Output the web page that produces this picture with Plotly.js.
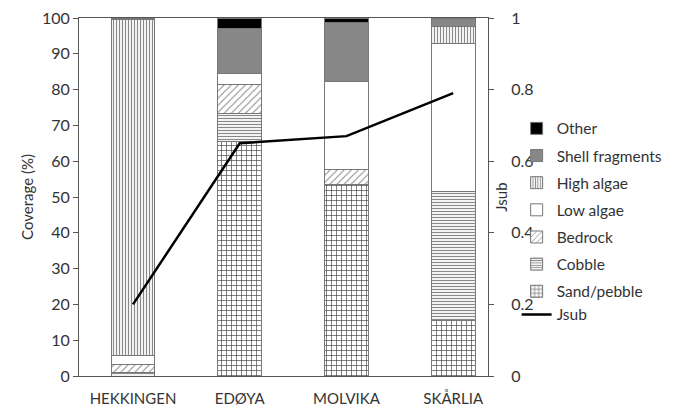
<!DOCTYPE html>
<html>
<head>
<meta charset="utf-8">
<script src="https://cdn.plot.ly/plotly-3.0.1.min.js"></script>
<style>html,body{margin:0;padding:0;background:#fff;}#chart{width:680px;height:408px;}</style>
</head>
<body>
<div id="chart"></div>
<script>
const categories = ["HEKKINGEN", "EDØYA", "MOLVIKA", "SKÅRLIA"];
const sandPebble = [0, 65.4, 53.4, 15.5];
const cobble = [1, 8, 0, 36];
const bedrock = [2.2, 7.9, 4.4, 0];
const lowAlgae = [2.5, 3.3, 24.5, 41.4];
const highAlgae = [93.8, 0, 0, 4.7];
const shellFragments = [0, 12.6, 16.5, 2.4];
const other = [0.5, 2.8, 1.2, 0];
const jsub = [0.2, 0.65, 0.67, 0.79];

const FONT = "Lato, 'Open Sans', sans-serif";
const TXT = "#333";
const outline = {color: "#777", width: 1};

function barTrace(name, vals, rank, color, pattern) {
  const m = {color: color, line: outline};
  if (pattern) m.pattern = pattern;
  return {
    type: "bar", name: name, x: categories, y: vals, width: 0.41,
    marker: m, legendrank: rank, legendgroup: "g" + rank, hoverinfo: "skip"
  };
}

const traces = [
  barTrace("Sand/pebble", sandPebble, 7, "#fff", {shape: "+", fgcolor: "#444", bgcolor: "#fff", size: 5, solidity: 0.25}),
  barTrace("Cobble", cobble, 6, "#fff", {shape: "-", fgcolor: "#888", bgcolor: "#fff", size: 3, solidity: 0.4}),
  barTrace("Bedrock", bedrock, 5, "#fff", {shape: "/", fgcolor: "#888", bgcolor: "#fff", size: 5, solidity: 0.2}),
  barTrace("Low algae", lowAlgae, 4, "#fff", null),
  barTrace("High algae", highAlgae, 3, "#fff", {shape: "|", fgcolor: "#888", bgcolor: "#fff", size: 3, solidity: 0.4}),
  barTrace("Shell fragments", shellFragments, 2, "#878787", null),
  barTrace("Other", other, 1, "#000", null),
  {
    type: "scatter", mode: "lines", name: "Jsub", x: categories, y: jsub,
    yaxis: "y2", line: {color: "#000", width: 2.5}, legendrank: 8, legendgroup: "g7"
  }
];

const layout = {
  width: 680, height: 408,
  margin: {l: 79, r: 187, t: 18, b: 32},
  paper_bgcolor: "#fff", plot_bgcolor: "#fff",
  font: {family: FONT, size: 15, color: TXT},
  barmode: "stack",
  bargap: 0,
  showlegend: true,
  legend: {
    x: 1.07, xanchor: "left", y: 0.738, yanchor: "top",
    traceorder: "grouped", tracegroupgap: 4, itemwidth: 30,
    font: {family: FONT, size: 15.5, color: TXT}, bgcolor: "rgba(0,0,0,0)"
  },
  xaxis: {
    type: "category", range: [-0.506, 3.326],
    showline: true, linecolor: "#555", linewidth: 1, mirror: true,
    ticks: "", showgrid: false, zeroline: false, ticklabelstandoff: 9,
    tickfont: {family: FONT, size: 15, color: TXT}
  },
  yaxis: {
    range: [0, 100], dtick: 10, tick0: 0,
    showline: true, linecolor: "#555", linewidth: 1, mirror: true,
    ticks: "outside", ticklen: 5, tickcolor: "#555",
    showgrid: false, zeroline: false,
    tickfont: {family: FONT, size: 16, color: TXT},
    title: {text: "Coverage (%)", font: {family: FONT, size: 15, color: TXT}, standoff: 4}
  },
  yaxis2: {
    overlaying: "y", side: "right", range: [0, 1], dtick: 0.2, tick0: 0,
    showline: true, linecolor: "#555", linewidth: 1,
    ticks: "outside", ticklen: 5, tickcolor: "#555", ticklabelstandoff: 14,
    showgrid: false, zeroline: false,
    tickfont: {family: FONT, size: 16, color: TXT}
  },
  annotations: [{
    text: "Jsub", xref: "paper", yref: "paper", x: 1.031, y: 0.5,
    textangle: -90, showarrow: false, xanchor: "center", yanchor: "middle",
    font: {family: FONT, size: 15, color: TXT}
  }]
};

Plotly.newPlot("chart", traces, layout, {displayModeBar: false, staticPlot: true});
</script>
</body>
</html>
